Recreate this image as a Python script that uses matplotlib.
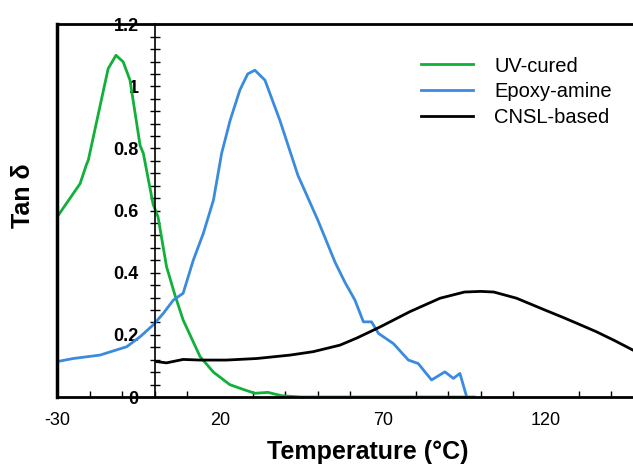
import matplotlib
matplotlib.use("Agg")
import matplotlib.pyplot as plt
from matplotlib.ticker import MultipleLocator, FixedLocator

plt.rcParams['font.family'] = ['Liberation Sans', 'DejaVu Sans']
plt.rcParams['axes.unicode_minus'] = False

# UV-cured
uv_x = [-30, -29.6, -22.9, -20.9, -20.4, -14.3, -11.9, -9.7, -7.6, -4.5, -3.5, -0.5, 1,
        3.6, 6.2, 8.7, 13.9, 18, 23, 27, 30.7, 34.7, 39, 45, 60, 80, 98]
uv_y = [0.58, 0.585, 0.687, 0.75, 0.762, 1.057, 1.10, 1.079, 1.02, 0.81, 0.784, 0.62, 0.58,
        0.42, 0.328, 0.248, 0.13, 0.08, 0.04, 0.025, 0.012, 0.015, 0.004, 0.0, 0.0, 0.0, 0.0]

# Epoxy-amine
ep_x = [-30, -25, -16.8, -8.6, -4.5, -0.5, 2.6, 5.7, 8.7, 11.8, 14.9, 18, 20.5, 23.1, 26.1,
        28.5, 30.7, 33.8, 38.4, 43.9, 50, 55.3, 58.3, 61.4, 64, 66.5, 68.6, 73.2, 77.8,
        80.8, 84.9, 89, 91.6, 93.6, 95.7]
ep_y = [0.114, 0.124, 0.135, 0.162, 0.194, 0.232, 0.269, 0.312, 0.334, 0.44, 0.527, 0.634,
        0.784, 0.89, 0.988, 1.04, 1.052, 1.02, 0.89, 0.714, 0.57, 0.434, 0.37, 0.312,
        0.242, 0.242, 0.205, 0.172, 0.119, 0.108, 0.055, 0.081, 0.06, 0.076, 0.0]

# CNSL-based
cn_x = [0.6, 3.6, 8.7, 13.9, 22, 31.3, 41.5, 48.6, 56.8, 62, 69, 78.3, 87.5, 95, 100, 104,
        111, 119.7, 125.3, 130, 135.5, 141, 146.7]
cn_y = [0.114, 0.11, 0.121, 0.119, 0.119, 0.124, 0.135, 0.146, 0.167, 0.19, 0.225, 0.275,
        0.318, 0.338, 0.34, 0.338, 0.318, 0.28, 0.256, 0.235, 0.21, 0.182, 0.151]

x_labels = [-30, 20, 70, 120]
y_labels = [0, 0.2, 0.4, 0.6, 0.8, 1, 1.2]

fig = plt.figure(figsize=(6.33, 4.66), dpi=100)
ax = fig.add_axes([0.09, 0.148, 0.91, 0.80])

ax.plot(uv_x, uv_y, color='#10b03a', lw=2, label='UV-cured')
ax.plot(ep_x, ep_y, color='#3a8be0', lw=2, label='Epoxy-amine')
ax.plot(cn_x, cn_y, color='black', lw=2, label='CNSL-based')

ax.set_xlim(-30, 146.7)
ax.set_ylim(0, 1.2)

# y axis crosses at x = 0, box edge kept at x = -30
ax.spines['left'].set_position(('data', 0))
ax.spines['left'].set_linewidth(1.2)
ax.spines['right'].set_visible(False)
ax.spines['top'].set_linewidth(2)
ax.spines['bottom'].set_linewidth(2)
ax.axvline(-30, color='black', lw=2.5, clip_on=False)

ax.yaxis.set_major_locator(FixedLocator(y_labels))
ax.yaxis.set_minor_locator(MultipleLocator(0.04))
ax.set_yticklabels(['0', '0.2', '0.4', '0.6', '0.8', '1', '1.2'])
ax.tick_params(axis='y', which='both', direction='inout', length=7, width=1,
               labelsize=13, pad=8)
for t in ax.get_yticklabels():
    t.set_fontweight('bold')

ax.xaxis.set_major_locator(FixedLocator(x_labels))
ax.xaxis.set_minor_locator(MultipleLocator(10))
ax.tick_params(axis='x', which='major', length=0, labelsize=13, pad=11)
ax.tick_params(axis='x', which='minor', direction='in', length=4, width=1)

ax.set_xlabel('Temperature (°C)', fontsize=18, fontweight='bold')
ax.xaxis.set_label_coords(0.54, -0.115)
ax.set_ylabel('Tan δ', fontsize=18, fontweight='bold')
ax.yaxis.set_label_coords(-0.038, 0.54)

ax.legend(frameon=False, loc='upper left', bbox_to_anchor=(0.6, 0.962),
          fontsize=14.5, handlelength=2.6, handletextpad=1.05, labelspacing=0.34)

fig.savefig('out.png', dpi=100)
